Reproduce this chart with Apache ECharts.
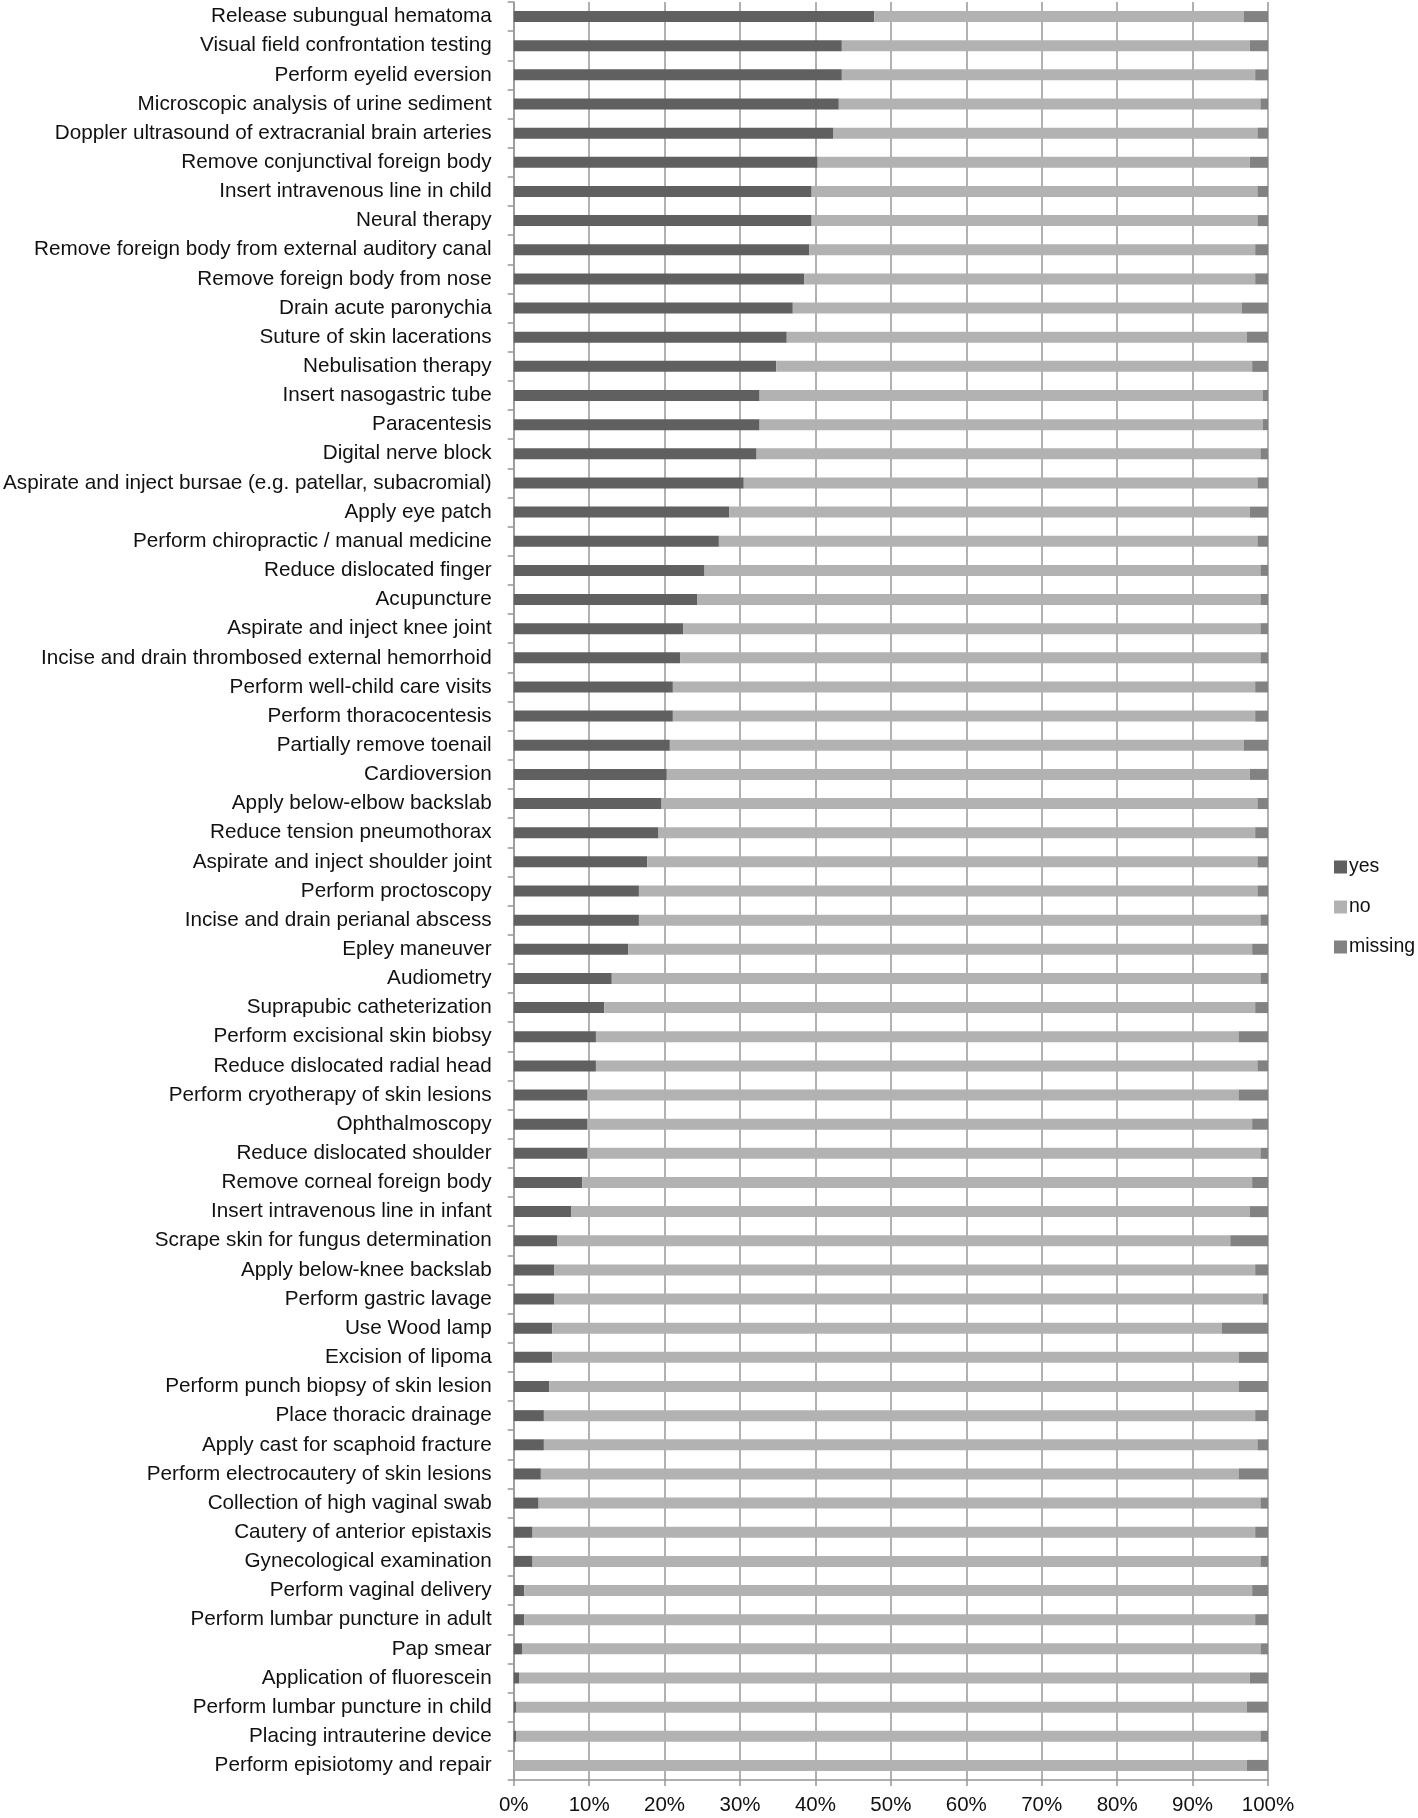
<!DOCTYPE html>
<html>
<head>
<meta charset="utf-8">
<script src="https://cdn.jsdelivr.net/npm/echarts@6/dist/echarts.min.js"></script>
<style>
html,body{margin:0;padding:0;background:#fff;}
#chart{width:1418px;height:1818px;}
</style>
</head>
<body>
<div id="chart"></div>
<script>
const categories = [
"Release subungual hematoma","Visual field confrontation testing","Perform eyelid eversion",
"Microscopic analysis of urine sediment","Doppler ultrasound of extracranial brain arteries",
"Remove conjunctival foreign body","Insert intravenous line in child","Neural therapy",
"Remove foreign body from external auditory canal","Remove foreign body from nose",
"Drain acute paronychia","Suture of skin lacerations","Nebulisation therapy","Insert nasogastric tube",
"Paracentesis","Digital nerve block","Aspirate and inject bursae (e.g. patellar, subacromial)",
"Apply eye patch","Perform chiropractic / manual medicine","Reduce dislocated finger","Acupuncture",
"Aspirate and inject knee joint","Incise and drain thrombosed external hemorrhoid",
"Perform well-child care visits","Perform thoracocentesis","Partially remove toenail","Cardioversion",
"Apply below-elbow backslab","Reduce tension pneumothorax","Aspirate and inject shoulder joint",
"Perform proctoscopy","Incise and drain perianal abscess","Epley maneuver","Audiometry",
"Suprapubic catheterization","Perform excisional skin biobsy","Reduce dislocated radial head",
"Perform cryotherapy of skin lesions","Ophthalmoscopy","Reduce dislocated shoulder",
"Remove corneal foreign body","Insert intravenous line in infant","Scrape skin for fungus determination",
"Apply below-knee backslab","Perform gastric lavage","Use Wood lamp","Excision of lipoma",
"Perform punch biopsy of skin lesion","Place thoracic drainage","Apply cast for scaphoid fracture",
"Perform electrocautery of skin lesions","Collection of high vaginal swab","Cautery of anterior epistaxis",
"Gynecological examination","Perform vaginal delivery","Perform lumbar puncture in adult","Pap smear",
"Application of fluorescein","Perform lumbar puncture in child","Placing intrauterine device",
"Perform episiotomy and repair"
];

const yesValues = [
47.8,43.5,43.5,43.1,42.4,40.3,39.5,39.5,39.2,38.5,
37.0,36.2,34.8,32.6,32.6,32.2,30.5,28.6,27.2,25.3,
24.3,22.5,22.1,21.1,21.1,20.7,20.3,19.6,19.2,17.7,
16.6,16.6,15.2,13.0,12.0,10.9,10.9,9.8,9.8,9.8,
9.1,7.6,5.8,5.4,5.4,5.1,5.1,4.7,4.0,4.0,
3.6,3.3,2.5,2.5,1.4,1.4,1.1,0.7,0.3,0.3,
0
];

const missingValues = [
3.2,2.4,1.7,1.0,1.4,2.4,1.4,1.4,1.7,1.7,
3.5,2.8,2.1,0.7,0.7,1.0,1.4,2.4,1.4,1.0,
1.0,1.0,1.0,1.7,1.7,3.2,2.4,1.4,1.7,1.4,
1.4,1.0,2.1,1.0,1.7,3.9,1.4,3.9,2.1,1.0,
2.1,2.4,5.0,1.7,0.7,6.1,3.9,3.9,1.7,1.4,
3.9,1.0,1.7,1.0,2.1,1.7,1.0,2.4,2.8,1.0,
2.8
];

const noValues = yesValues.map((y, i) => +(100 - y - missingValues[i]).toFixed(1));

const xTickLabels = ["0%","10%","20%","30%","40%","50%","60%","70%","80%","90%","100%"];

const FONT = "'Liberation Sans', Arial, sans-serif";
const gridGray = '#979797';

const chart = echarts.init(document.getElementById('chart'), null, {renderer: 'canvas'});
chart.setOption({
  animation: false,
  backgroundColor: '#ffffff',
  textStyle: {fontFamily: FONT},
  grid: {left: 513, right: 150, top: 2, bottom: 38, containLabel: false},
  legend: {
    orient: 'vertical',
    left: 1329,
    top: 852,
    itemWidth: 13,
    itemHeight: 13,
    itemGap: 20,
    icon: 'rect',
    textStyle: {fontSize: 19.5, color: '#111', fontFamily: FONT, padding: [0,0,0,-3]},
    data: ['yes','no','missing']
  },
  xAxis: {
    type: 'value',
    min: 0, max: 100, interval: 10,
    axisLine: {show: true, lineStyle: {color: gridGray, width: 1.5}},
    axisTick: {show: true, length: 6, lineStyle: {color: gridGray, width: 1.5}},
    splitLine: {show: true, lineStyle: {color: gridGray, width: 1.5}},
    axisLabel: {
      margin: 15, fontSize: 20.5, color: '#111', fontFamily: FONT,
      formatter: v => xTickLabels[Math.round(v/10)]
    }
  },
  yAxis: {
    type: 'category',
    inverse: true,
    data: categories,
    axisLine: {show: true, lineStyle: {color: gridGray, width: 1.5}},
    axisTick: {show: true, length: 6, interval: 0, lineStyle: {color: gridGray, width: 1.5}},
    axisLabel: {interval: 0, margin: 22, fontSize: 20.7, color: '#111', fontFamily: FONT}
  },
  series: [
    {name: 'yes', type: 'bar', stack: 'total', data: yesValues, barWidth: 11,
     itemStyle: {color: '#606060'}},
    {name: 'no', type: 'bar', stack: 'total', data: noValues, barWidth: 11,
     itemStyle: {color: '#b2b2b2'}},
    {name: 'missing', type: 'bar', stack: 'total', data: missingValues, barWidth: 11,
     itemStyle: {color: '#828282'}}
  ]
});
</script>
</body>
</html>
